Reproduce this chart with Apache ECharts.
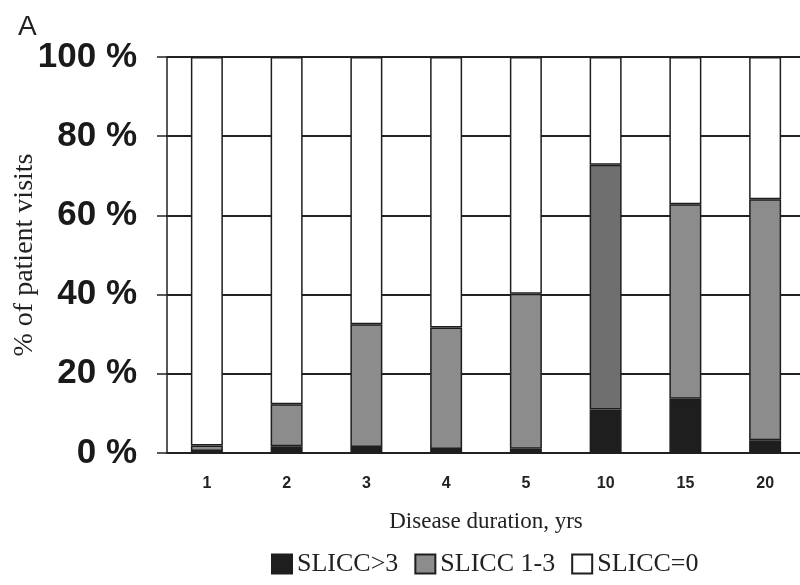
<!DOCTYPE html>
<html>
<head>
<meta charset="utf-8">
<script src="https://cdn.jsdelivr.net/npm/echarts@6/dist/echarts.min.js"></script>
<style>
  html, body { margin: 0; padding: 0; background: #fff; }
  #main { width: 800px; height: 585px; }
</style>
</head>
<body>
<div id="main"></div>
<script>
// 病程年数
var durations = ['1', '2', '3', '4', '5', '10', '15', '20'];
// SLICC>3 (黑)
var slicc3 = [0.5, 1.7, 1.5, 1.0, 1.1, 11.0, 13.7, 3.2];
// SLICC 1-3 (灰)
var slicc13 = [1.4, 10.6, 31.0, 30.7, 39.1, 61.8, 49.1, 60.9];
// SLICC=0 (白)
var slicc0 = [98.1, 87.7, 67.5, 68.3, 59.8, 27.2, 37.2, 35.9];
var yTicks = [0, 20, 40, 60, 80, 100];

var chart = echarts.init(document.getElementById('main'));

var serifFont = '"Liberation Serif", "DejaVu Serif", serif';
var sansFont = '"Liberation Sans", Arial, sans-serif';

var option = {
    animation: false,
    backgroundColor: '#fff',
    title: {
        text: 'A',
        left: 13,
        top: 8,
        textStyle: { fontFamily: sansFont, fontSize: 28, fontWeight: 'normal', color: '#222' }
    },
    legend: {
        top: 546,
        left: 266,
        itemWidth: 20,
        itemHeight: 19,
        itemGap: 16,
        icon: 'rect',
        textStyle: { fontFamily: serifFont, fontSize: 26, color: '#222' },
        data: ['SLICC>3', 'SLICC 1-3', 'SLICC=0']
    },
    grid: {
        left: 167,
        top: 57,
        width: 638,
        bottom: 132,
        outerBoundsMode: 'none',
        containLabel: false
    },
    xAxis: {
        type: 'category',
        data: durations,
        name: 'Disease duration, yrs',
        nameLocation: 'middle',
        nameGap: 57,
        nameMoveOverlap: false,
        nameTextStyle: { fontFamily: serifFont, fontSize: 23, color: '#222' },
        axisLine: { lineStyle: { color: '#222', width: 1.5 } },
        axisTick: { length: 6, lineStyle: { color: '#222', width: 1.5 } },
        axisLabel: { margin: 23, fontFamily: sansFont, fontSize: 16, fontWeight: 'bold', color: '#222' }
    },
    yAxis: {
        type: 'value',
        min: 0,
        max: 100,
        interval: 20,
        name: '% of patient visits',
        nameLocation: 'middle',
        nameGap: 128,
        nameMoveOverlap: false,
        nameTextStyle: { fontFamily: serifFont, fontSize: 28, color: '#222' },
        axisLine: { show: true, lineStyle: { color: '#222', width: 1.5 } },
        axisTick: { show: true, length: 10, lineStyle: { color: '#222', width: 1.5 } },
        axisLabel: {
            margin: 30,
            fontFamily: sansFont,
            fontSize: 35,
            fontWeight: 'bold',
            color: '#1a1a1a',
            formatter: function (v) { return yTicks.indexOf(v) >= 0 ? v + ' %' : ''; }
        },
        splitLine: { lineStyle: { color: '#222', width: 1.8 } }
    },
    series: [
        {
            name: 'SLICC>3',
            type: 'bar',
            stack: 'all',
            barWidth: 32,
            data: slicc3,
            itemStyle: { color: '#1e1e1e', borderColor: '#1e1e1e', borderWidth: 1.5 }
        },
        {
            name: 'SLICC 1-3',
            type: 'bar',
            stack: 'all',
            barWidth: 32,
            data: slicc13.map(function (v, i) {
                // 10年那根颜色更深
                return i === 5 ? { value: v, itemStyle: { color: '#6f6f6f' } } : v;
            }),
            itemStyle: { color: '#8c8c8c', borderColor: '#1e1e1e', borderWidth: 1.5 }
        },
        {
            name: 'SLICC=0',
            type: 'bar',
            stack: 'all',
            barWidth: 32,
            data: slicc0,
            itemStyle: { color: '#ffffff', borderColor: '#1e1e1e', borderWidth: 1.5 }
        }
    ]
};

chart.setOption(option);
</script>
</body>
</html>
